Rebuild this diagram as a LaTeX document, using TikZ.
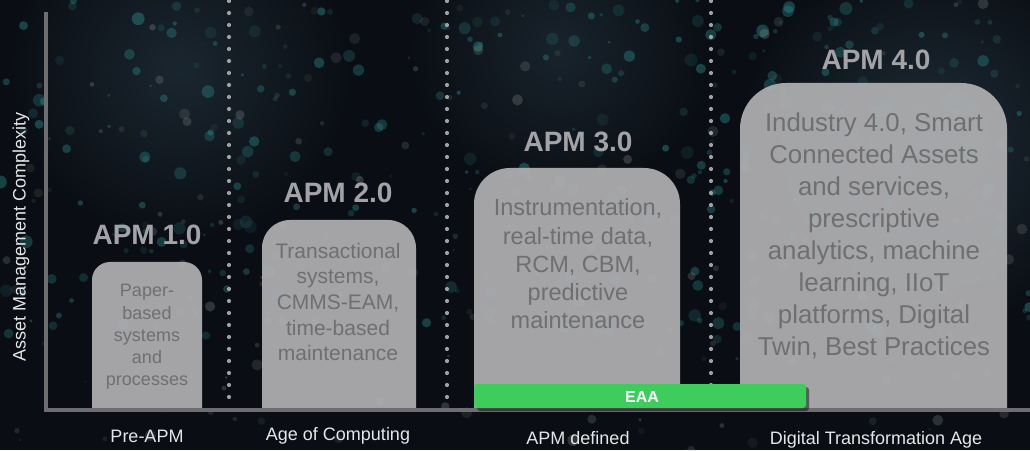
\documentclass[tikz,border=0pt]{standalone}
\usepackage{fontspec}
\setmainfont{Liberation Sans}
\usetikzlibrary{calc}
\definecolor{bgc}{HTML}{0A0E14}
\definecolor{hazec}{HTML}{1E2C36}
\definecolor{axisc}{HTML}{6E6E70}
\definecolor{dotc}{HTML}{A0A0A2}
\definecolor{boxc}{HTML}{B0B0B2}
\definecolor{boxtxt}{HTML}{6F6F6F}
\definecolor{apmc}{HTML}{A3A3A7}
\definecolor{botc}{HTML}{E6E6E6}
\definecolor{eaac}{HTML}{3ECD5C}
\definecolor{tealc}{HTML}{2E9A9A}
\definecolor{greyb}{HTML}{9AA6A6}
\tikzset{
  apmlabel/.style={text=apmc, font=\bfseries\fontsize{28}{30}\selectfont, inner sep=0pt},
  boxtext/.style={text=boxtxt, align=center, inner sep=0pt},
  botlabel/.style={text=botc, font=\fontsize{18}{20}\selectfont, inner sep=0pt},
  boxfill/.style={fill=boxc, fill opacity=0.93},
  axisline/.style={draw=axisc, line width=4pt},
}
\begin{document}
\begin{tikzpicture}[x=1pt,y=1pt]
\useasboundingbox (0,0) rectangle (1030,450);
\fill[bgc] (0,0) rectangle (1030,450);
% background haze
\begin{scope}
\clip (0,0) rectangle (1030,450);
\shade[inner color=hazec, outer color=bgc] (930,310) circle[radius=190pt];
\shade[inner color=hazec!80!bgc, outer color=bgc] (180,380) circle[radius=170pt];
\shade[inner color=hazec!70!bgc, outer color=bgc] (560,400) circle[radius=150pt];
\end{scope}
% bokeh background
\pgfmathsetseed{17}
\foreach \i in {1,...,320}{
  \pgfmathsetmacro\px{rnd*1030}
  \pgfmathsetmacro\py{110+rnd*340}
  \pgfmathsetmacro\pr{1.5+rnd*5}
  \pgfmathsetmacro\po{0.10+rnd*0.30}
  \fill[tealc, opacity=\po] (\px,\py) circle[radius=\pr pt];
}
\foreach \i in {1,...,200}{
  \pgfmathsetmacro\px{rnd*1030}
  \pgfmathsetmacro\py{rnd*450}
  \pgfmathsetmacro\pr{1.2+rnd*4.5}
  \pgfmathsetmacro\po{0.06+rnd*0.20}
  \fill[greyb, opacity=\po] (\px,\py) circle[radius=\pr pt];
}
% dotted separators
\foreach \dx in {229,447,711}{
  \foreach \k in {0,...,33}{
    \fill[dotc] (\dx,53+12*\k) circle[radius=2.1pt];
  }
}
% boxes
\fill[boxfill] (92,42) -- (92,170) arc[start angle=180,end angle=90,radius=18] -- (184,188) arc[start angle=90,end angle=0,radius=18] -- (202,42) -- cycle;
\fill[boxfill] (262,42) -- (262,202) arc[start angle=180,end angle=90,radius=28] -- (388,230) arc[start angle=90,end angle=0,radius=28] -- (416,42) -- cycle;
\fill[boxfill] (474,42) -- (474,246) arc[start angle=180,end angle=90,radius=36] -- (644,282) arc[start angle=90,end angle=0,radius=36] -- (680,42) -- cycle;
\fill[boxfill] (740,42) -- (740,321) arc[start angle=180,end angle=90,radius=46] -- (961,367) arc[start angle=90,end angle=0,radius=46] -- (1007,42) -- cycle;
% axes
\coordinate (ytop) at (46,438);
\coordinate (origin) at (46,40);
\coordinate (xend) at (1030,40);
\draw[axisline] (ytop) -- ($(origin)+(0,-2)$);
\draw[axisline] ($(origin)+(-2,0)$) -- (xend);
% EAA bar
\fill[black, opacity=0.45, rounded corners=3pt] (477,39) rectangle (809,63);
\fill[eaac, rounded corners=3pt] (474,42) rectangle (806,66);
\node[text=white, font=\bfseries\fontsize{16}{18}\selectfont, inner sep=0pt] (eaa) at (642,53) {EAA};
% APM labels
\node[apmlabel] (apm1) at (147,215) {APM 1.0};
\node[apmlabel] (apm2) at (338,257) {APM 2.0};
\node[apmlabel] (apm3) at (578,308) {APM 3.0};
\node[apmlabel] (apm4) at (876,390) {APM 4.0};
% box texts
\node[boxtext, font=\fontsize{18}{22.3}\selectfont] (t1) at (147,113) {Paper-\\based\\systems\\and\\processes};
\node[boxtext, font=\fontsize{21}{25.6}\selectfont] (t2) at (338,148) {Transactional\\systems,\\CMMS-EAM,\\time-based\\maintenance};
\node[boxtext, font=\fontsize{23.5}{28.3}\selectfont] (t3) at (578,186) {Instrumentation,\\real-time data,\\RCM, CBM,\\predictive\\maintenance};
\node[boxtext, font=\fontsize{25.8}{32}\selectfont] (t4) at (874,214) {Industry 4.0, Smart\\Connected Assets\\and services,\\prescriptive\\analytics, machine\\learning, IIoT\\platforms, Digital\\Twin, Best Practices};
% bottom labels
\node[botlabel] (b1) at (147,14) {Pre-APM};
\node[botlabel] (b2) at (338,14) {Age of Computing};
\node[botlabel] (b3) at (578,12) {APM defined};
\node[botlabel] (b4) at (876,10) {Digital Transformation Age};
% y-axis label
\node[text=botc, font=\fontsize{18}{20}\selectfont, rotate=90, inner sep=0pt] (ylab) at (21,213) {Asset Management Complexity};
\end{tikzpicture}
\end{document}
